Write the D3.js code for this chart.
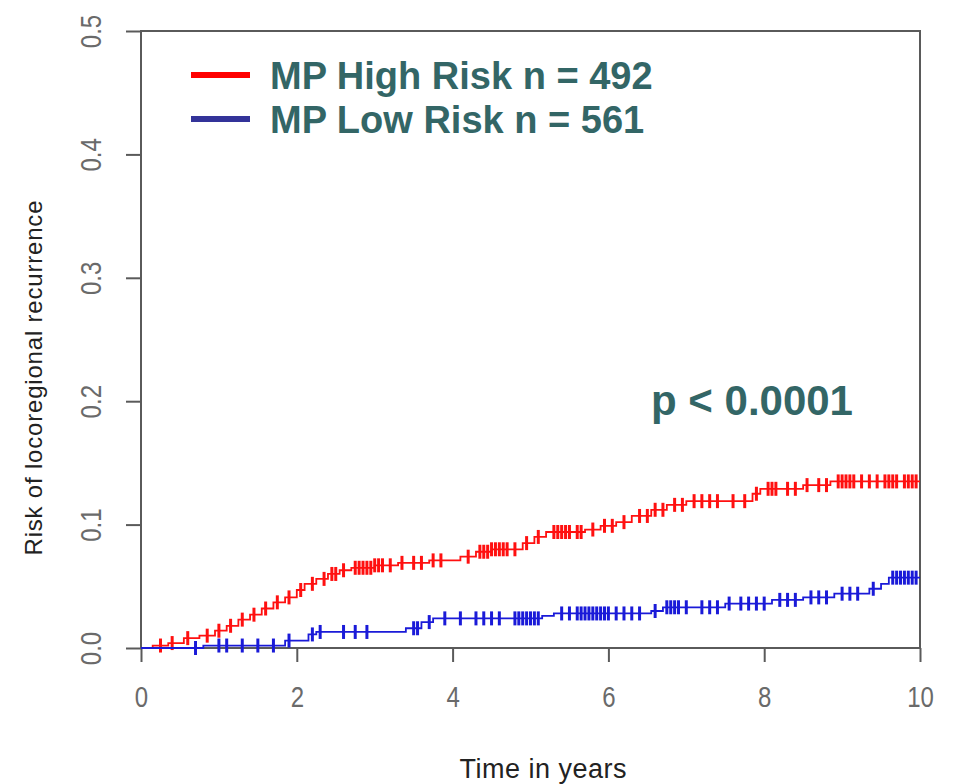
<!DOCTYPE html>
<html>
<head>
<meta charset="utf-8">
<script src="https://cdn.jsdelivr.net/npm/d3@7/dist/d3.min.js"></script>
<style>
  html, body { margin: 0; padding: 0; background: #ffffff; }
  svg { display: block; }
</style>
</head>
<body>
<svg id="chart" width="953" height="784"></svg>
<script>
// Cumulative incidence of locoregional recurrence (step function: time in years, risk)
const highRiskTimes  = [0, 0.15, 0.35, 0.55, 0.75, 0.95, 1.1, 1.25, 1.4, 1.55, 1.7, 1.85, 2.0, 2.1, 2.25, 2.4, 2.55, 2.7, 3.0, 3.3, 3.7, 4.1, 4.3, 4.5, 4.9, 5.05, 5.2, 5.7, 5.9, 6.1, 6.3, 6.55, 6.75, 7.0, 7.85, 7.95, 8.5, 8.85];
const highRiskValues = [0, 0.002, 0.004, 0.008, 0.010, 0.014, 0.018, 0.023, 0.027, 0.032, 0.037, 0.041, 0.047, 0.052, 0.056, 0.060, 0.063, 0.065, 0.067, 0.069, 0.071, 0.074, 0.078, 0.080, 0.085, 0.090, 0.094, 0.096, 0.099, 0.102, 0.107, 0.112, 0.116, 0.119, 0.125, 0.129, 0.132, 0.135];
const lowRiskTimes   = [0, 0.8, 1.85, 2.15, 2.25, 3.4, 3.6, 3.75, 5.15, 5.3, 6.55, 6.7, 7.5, 8.1, 8.5, 8.9, 9.35, 9.5, 9.6];
const lowRiskValues  = [0, 0.002, 0.006, 0.011, 0.013, 0.016, 0.021, 0.024, 0.026, 0.028, 0.030, 0.033, 0.036, 0.039, 0.041, 0.044, 0.048, 0.052, 0.057];

// Censored observations (years)
const highRiskCensored = [0.25, 0.4, 0.6, 0.85, 1.0, 1.15, 1.3, 1.45, 1.6, 1.75, 1.9, 2.05, 2.2, 2.35, 2.45, 2.5, 2.6, 2.75, 2.8, 2.85, 2.9, 2.95, 3.0, 3.05, 3.1, 3.2, 3.35, 3.5, 3.6, 3.75, 3.85, 4.2, 4.35, 4.4, 4.45, 4.5, 4.55, 4.6, 4.65, 4.7, 4.8, 4.95, 5.1, 5.3, 5.35, 5.4, 5.45, 5.5, 5.6, 5.65, 5.8, 5.95, 6.05, 6.2, 6.4, 6.5, 6.6, 6.7, 6.85, 6.95, 7.1, 7.2, 7.3, 7.4, 7.6, 7.75, 7.9, 8.05, 8.1, 8.15, 8.3, 8.4, 8.55, 8.7, 8.8, 8.95, 9.0, 9.05, 9.1, 9.15, 9.25, 9.35, 9.45, 9.55, 9.6, 9.65, 9.7, 9.8, 9.85, 9.9, 9.95];
const lowRiskCensored  = [0.7, 1.0, 1.1, 1.3, 1.5, 1.7, 1.9, 2.2, 2.3, 2.6, 2.75, 2.9, 3.5, 3.55, 3.7, 3.9, 4.1, 4.3, 4.4, 4.5, 4.6, 4.8, 4.85, 4.9, 4.95, 5.0, 5.05, 5.1, 5.4, 5.5, 5.6, 5.65, 5.7, 5.75, 5.8, 5.85, 5.9, 5.95, 6.0, 6.1, 6.2, 6.3, 6.4, 6.6, 6.75, 6.8, 6.85, 6.9, 7.0, 7.2, 7.3, 7.4, 7.55, 7.7, 7.8, 7.9, 8.0, 8.2, 8.3, 8.4, 8.6, 8.7, 8.8, 9.0, 9.1, 9.2, 9.4, 9.65, 9.7, 9.75, 9.8, 9.85, 9.9, 9.95];

const xTicks = [0, 2, 4, 6, 8, 10];
const yTicks = [0.0, 0.1, 0.2, 0.3, 0.4, 0.5];
const legendLabels = ["MP High Risk n = 492", "MP Low Risk n = 561"];
const pValueLabel = "p < 0.0001";

const svg = d3.select("#chart");
const plot = { left: 141, right: 920, top: 31, bottom: 648 };

const x = d3.scaleLinear().domain([0, 10]).range([plot.left, plot.right]);
const y = d3.scaleLinear().domain([0, 0.5]).range([plot.bottom, plot.top]);

const axisColor = "#5a5a5a";
const labelColor = "#6a6a6a";
const font = "'Liberation Sans', Arial, sans-serif";

// Box around plot region
svg.append("rect")
  .attr("x", plot.left).attr("y", plot.top)
  .attr("width", plot.right - plot.left).attr("height", plot.bottom - plot.top)
  .attr("fill", "none").attr("stroke", axisColor).attr("stroke-width", 2);

// Bottom axis (narrow, tall digits)
const xAxis = svg.append("g")
  .attr("transform", `translate(0,${plot.bottom})`)
  .call(d3.axisBottom(x).tickValues(xTicks).tickFormat(d3.format("d")).tickSize(14));
xAxis.select(".domain").remove();
xAxis.selectAll(".tick line").attr("stroke", axisColor).attr("stroke-width", 2);
xAxis.selectAll(".tick text")
  .attr("y", null).attr("dy", null)
  .attr("transform", "translate(0,59) scale(0.8,1)")
  .attr("text-anchor", "middle")
  .attr("fill", labelColor)
  .style("font-family", font)
  .style("font-size", "30px");

// Left axis with rotated labels
const yAxis = svg.append("g")
  .attr("transform", `translate(${plot.left},0)`)
  .call(d3.axisLeft(y).tickValues(yTicks).tickFormat(d3.format(".1f")).tickSize(15));
yAxis.select(".domain").remove();
yAxis.selectAll(".tick line").attr("stroke", axisColor).attr("stroke-width", 2);
yAxis.selectAll(".tick text")
  .attr("x", 0).attr("dy", null)
  .attr("transform", "translate(-40,0) rotate(-90) scale(0.8,1)")
  .attr("text-anchor", "middle")
  .attr("fill", labelColor)
  .style("font-family", font)
  .style("font-size", "30px");

// Axis titles
svg.append("text")
  .attr("x", 543).attr("y", 778)
  .attr("text-anchor", "middle")
  .attr("fill", "#222")
  .style("font-family", font)
  .style("font-size", "27px")
  .attr("textLength", 167)
  .text("Time in years");

svg.append("text")
  .attr("transform", "translate(42,378) rotate(-90)")
  .attr("text-anchor", "middle")
  .attr("fill", "#222")
  .style("font-family", font)
  .style("font-size", "24px")
  .attr("textLength", 355)
  .text("Risk of locoregional recurrence");

// Step curves and censor marks
const series = [
  { times: highRiskTimes, values: highRiskValues, censored: highRiskCensored, color: "#ff1010" },
  { times: lowRiskTimes,  values: lowRiskValues,  censored: lowRiskCensored,  color: "#1a1ad8" }
];

const stepLine = d3.line()
  .x(d => x(d[0]))
  .y(d => y(d[1]))
  .curve(d3.curveStepAfter);

function valueAt(times, values, t) {
  const i = d3.bisectRight(times, t) - 1;
  return values[Math.max(0, i)];
}

series.forEach(s => {
  const pts = s.times.map((t, i) => [t, s.values[i]]);
  pts.push([10, s.values[s.values.length - 1]]);
  svg.append("path")
    .datum(pts)
    .attr("fill", "none")
    .attr("stroke", s.color)
    .attr("stroke-width", 1.8)
    .attr("d", stepLine);

  svg.append("g")
    .selectAll("line")
    .data(s.censored)
    .join("line")
    .attr("x1", d => x(d)).attr("x2", d => x(d))
    .attr("y1", d => y(valueAt(s.times, s.values, d)) - 7)
    .attr("y2", d => y(valueAt(s.times, s.values, d)) + 7)
    .attr("stroke", s.color)
    .attr("stroke-width", 3);
});

// Legend
const legendColors = ["#ff0000", "#333399"];
const legend = svg.append("g");
legendLabels.forEach((label, i) => {
  const ly = 75 + i * 44;
  legend.append("line")
    .attr("x1", 191).attr("x2", 250)
    .attr("y1", ly).attr("y2", ly)
    .attr("stroke", legendColors[i]).attr("stroke-width", 6);
  legend.append("text")
    .attr("x", 270).attr("y", ly + 14)
    .attr("fill", "#336666")
    .style("font-family", font)
    .style("font-weight", "bold")
    .style("font-size", "38px")
    .text(label);
});

// Log-rank p value
svg.append("text")
  .attr("x", 651).attr("y", 415)
  .attr("fill", "#336666")
  .style("font-family", font)
  .style("font-weight", "bold")
  .style("font-size", "42px")
  .text(pValueLabel);
</script>
</body>
</html>
